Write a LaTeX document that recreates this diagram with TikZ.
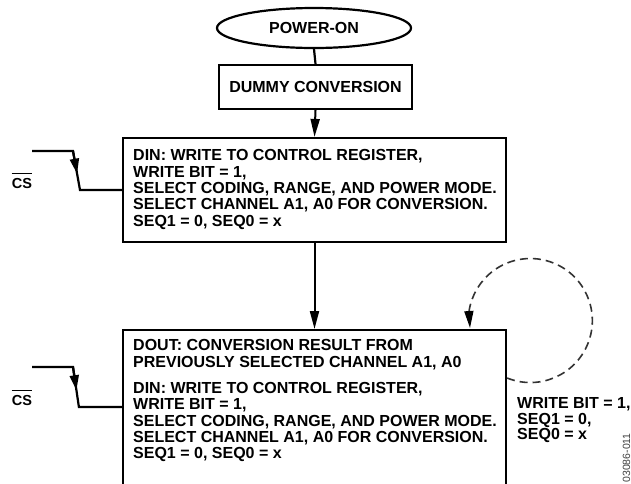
\documentclass[tikz,border=0pt]{standalone}
\usepackage{fontspec}
\setmainfont{Liberation Sans}
\usetikzlibrary{arrows.meta,shapes.geometric,calc}
\begin{document}
\begin{tikzpicture}[x=1pt,y=-1pt,
  lw/.style={line width=2.2pt},
  boxtext/.style={font=\bfseries\fontsize{16}{16.3}\selectfont},
  flowbox/.style={draw, lw, rectangle, inner sep=0pt},
  arr/.style={line width=2pt, -{Triangle[length=18pt,width=9pt]}},
  wave/.style={lw},
  cslabel/.style={font=\bfseries\fontsize{14.5}{14.5}\selectfont, inner sep=0pt},
  loopline/.style={line width=1.6pt, dash pattern=on 8pt off 5pt, draw=black!80},
]
\useasboundingbox (0,0) rectangle (631,483);
\clip (0,0) rectangle (631,483);

% flow boxes
\node[draw, lw, ellipse, minimum width=194pt, minimum height=40pt, inner sep=0pt, boxtext] (pw) at (314,28) {POWER-ON};
\node[flowbox, boxtext, minimum width=193pt, minimum height=44pt] (dc) at (315.5,87) {DUMMY CONVERSION};
\node[flowbox, minimum width=383pt, minimum height=104pt] (b2) at (314.5,190) {};
\node[boxtext, anchor=north west, inner sep=0pt, align=left] (t2) at (133,149.5)
  {DIN: WRITE TO CONTROL REGISTER,\\
   WRITE BIT = 1,\\
   SELECT CODING, RANGE, AND POWER MODE.\\
   SELECT CHANNEL A1, A0 FOR CONVERSION.\\
   SEQ1 = 0, SEQ0 = x};
\node[flowbox, minimum width=383pt, minimum height=180pt, anchor=north] (b3) at (314.5,329) {};
\node[boxtext, anchor=north west, inner sep=0pt, align=left] (t3) at (133,339.5)
  {DOUT: CONVERSION RESULT FROM\\
   PREVIOUSLY SELECTED CHANNEL A1, A0\\[10pt]
   DIN: WRITE TO CONTROL REGISTER,\\
   WRITE BIT = 1,\\
   SELECT CODING, RANGE, AND POWER MODE.\\
   SELECT CHANNEL A1, A0 FOR CONVERSION.\\
   SEQ1 = 0, SEQ0 = x};

% connectors
\draw[lw] (pw.south) -- (dc.north);
\draw[arr] (dc.south) -- (b2.north);
\draw[arr] (b2.south) -- (b3.north);

% dashed loop
\coordinate (loopstart) at ($(b3.north east)+(0,49)$);
\coordinate (looptip) at (470,328);
\draw[loopline] (loopstart) arc[start angle=-112, end angle=172, radius=62pt] coordinate (loopend);
\draw[line width=1.6pt, -{Triangle[length=17pt,width=9pt]}] (loopend) -- (looptip);

\node[font=\bfseries\fontsize{16}{15.5}\selectfont, anchor=north west, inner sep=0pt, align=left] (wb) at (517,397.5)
  {WRITE BIT = 1,\\ SEQ1 = 0,\\ SEQ0 = x};

% CS waveforms
\coordinate (w1a) at (32,151);
\coordinate (w1b) at (73,151);
\coordinate (w1c) at (80,190);
\draw[wave] (w1a) -- (w1b) -- (w1c) -- (w1c -| b2.west);
\draw[wave, -{Triangle[length=15pt,width=9pt]}] (w1b) -- ($(w1b)!0.58!(w1c)$);
\node[cslabel] (cs1) at (22,183.5) {CS};
\draw[line width=1.3pt] ([yshift=4.5pt]cs1.north west) -- ([yshift=4.5pt]cs1.north east);

\coordinate (w2a) at (32,367);
\coordinate (w2b) at (73,367);
\coordinate (w2c) at ($(b3.north west)+(-43,78)$);
\draw[wave] (w2a) -- (w2b) -- (w2c) -- ($(b3.north west)+(0,78)$);
\draw[wave, -{Triangle[length=15pt,width=9pt]}] (w2b) -- ($(w2b)!0.58!(w2c)$);
\node[cslabel] (cs2) at (22,400) {CS};
\draw[line width=1.3pt] ([yshift=4.5pt]cs2.north west) -- ([yshift=4.5pt]cs2.north east);

% figure id
\node[rotate=90, anchor=base east, inner sep=0pt, font=\fontsize{10.5}{10.5}\selectfont, text=black!75] (fig) at (630,433) {03086-011};
\end{tikzpicture}
\end{document}
